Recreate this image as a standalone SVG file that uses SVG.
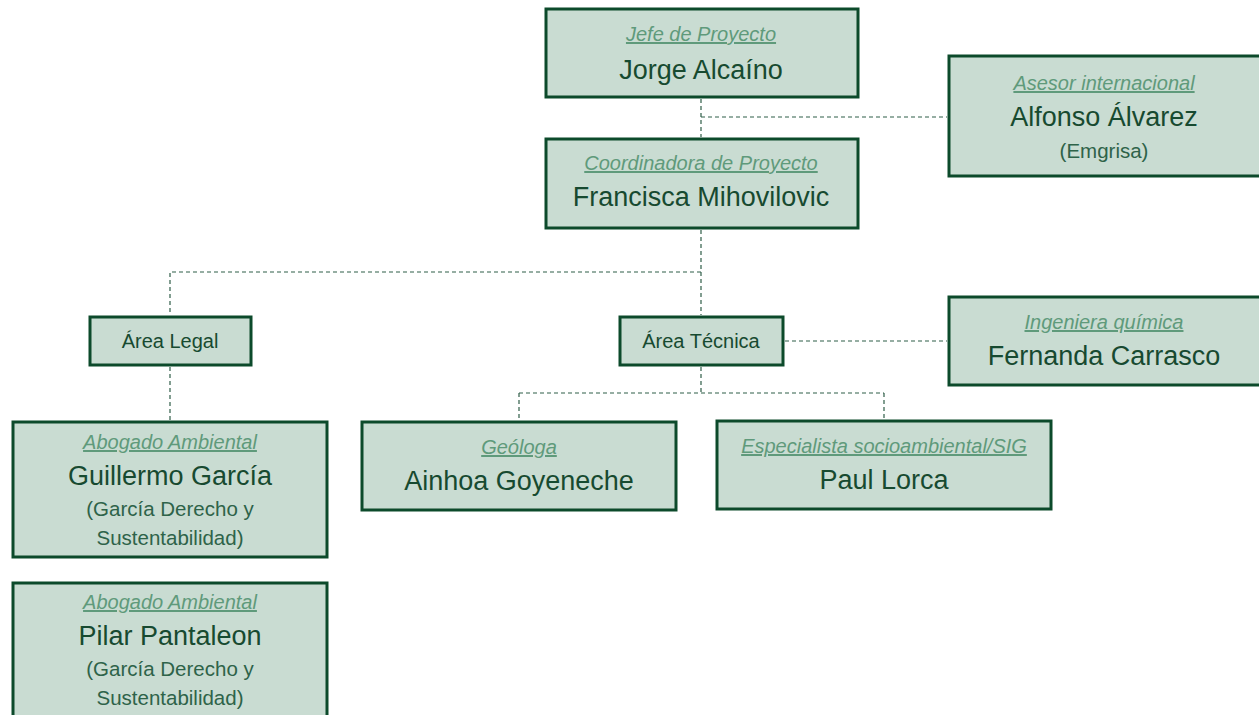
<svg xmlns="http://www.w3.org/2000/svg" width="1259" height="715" viewBox="0 0 1259 715">
<style>
.box{fill:#C9DCD2;stroke:#0C4A2B;stroke-width:3}
.role{font-family:"Liberation Sans",Arial,sans-serif;font-style:italic;font-size:20px;fill:#5F9A7B;text-decoration:underline;text-anchor:middle}
.name{font-family:"Liberation Sans",Arial,sans-serif;font-size:27px;fill:#174A30;text-anchor:middle}
.sub{font-family:"Liberation Sans",Arial,sans-serif;font-size:20.5px;fill:#2E6349;text-anchor:middle}
.area{font-family:"Liberation Sans",Arial,sans-serif;font-size:20px;fill:#174A30;text-anchor:middle}
.conn{fill:none;stroke:#2F5E48;stroke-width:1.2;stroke-dasharray:4 3}
</style>
<rect width="1259" height="715" fill="#FFFFFF"/>
<g id="connectors">
<path class="conn" d="M701 99 V137"/>
<path class="conn" d="M701 117 H947"/>
<path class="conn" d="M701 230 V315"/>
<path class="conn" d="M701 272 H170 V315"/>
<path class="conn" d="M170 367 V420"/>
<path class="conn" d="M785 341 H947"/>
<path class="conn" d="M701 367 V393"/>
<path class="conn" d="M519 393 H884"/>
<path class="conn" d="M519 393 V420"/>
<path class="conn" d="M884 393 V419"/>
</g>
<g id="jefe">
<rect class="box" x="546" y="9" width="312" height="88"/>
<text class="role" x="701" y="41">Jefe de Proyecto</text>
<text class="name" x="701" y="79">Jorge Alcaíno</text>
</g>
<g id="coordinadora">
<rect class="box" x="546" y="139" width="312" height="89"/>
<text class="role" x="701" y="170">Coordinadora de Proyecto</text>
<text class="name" x="701" y="206">Francisca Mihovilovic</text>
</g>
<g id="asesor">
<rect class="box" x="949" y="56" width="312" height="120"/>
<text class="role" x="1104" y="90">Asesor internacional</text>
<text class="name" x="1104" y="126">Alfonso Álvarez</text>
<text class="sub" x="1104" y="158">(Emgrisa)</text>
</g>
<g id="area-legal">
<rect class="box" x="90" y="317" width="161" height="48"/>
<text class="area" x="170" y="348">Área Legal</text>
</g>
<g id="area-tecnica">
<rect class="box" x="620" y="317" width="163" height="48"/>
<text class="area" x="701" y="348">Área Técnica</text>
</g>
<g id="ingeniera">
<rect class="box" x="949" y="297" width="312" height="88"/>
<text class="role" x="1104" y="329">Ingeniera química</text>
<text class="name" x="1104" y="365">Fernanda Carrasco</text>
</g>
<g id="guillermo">
<rect class="box" x="13" y="422" width="314" height="135"/>
<text class="role" x="170" y="449">Abogado Ambiental</text>
<text class="name" x="170" y="485">Guillermo García</text>
<text class="sub" x="170" y="516">(García Derecho y</text>
<text class="sub" x="170" y="545">Sustentabilidad)</text>
</g>
<g id="pilar">
<rect class="box" x="13" y="583" width="314" height="140"/>
<text class="role" x="170" y="609">Abogado Ambiental</text>
<text class="name" x="170" y="645">Pilar Pantaleon</text>
<text class="sub" x="170" y="676">(García Derecho y</text>
<text class="sub" x="170" y="705">Sustentabilidad)</text>
</g>
<g id="geologa">
<rect class="box" x="362" y="422" width="314" height="88"/>
<text class="role" x="519" y="454">Geóloga</text>
<text class="name" x="519" y="490">Ainhoa Goyeneche</text>
</g>
<g id="especialista">
<rect class="box" x="717" y="421" width="334" height="88"/>
<text class="role" x="884" y="453">Especialista socioambiental/SIG</text>
<text class="name" x="884" y="489">Paul Lorca</text>
</g>
</svg>
